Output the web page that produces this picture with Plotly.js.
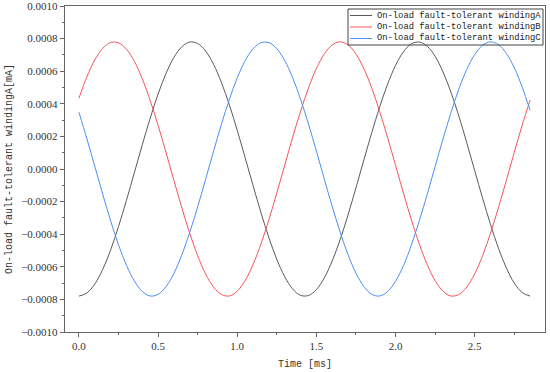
<!DOCTYPE html>
<html>
<head>
<meta charset="utf-8">
<script src="https://cdn.plot.ly/plotly-3.0.1.min.js"></script>
<style>html,body{margin:0;padding:0;background:#fff;}#chart{width:550px;height:372px;}</style>
</head>
<body>
<div id="chart"></div>
<script>
// time [ms]
const time = [0,0.05,0.1,0.15,0.2,0.25,0.3,0.35,0.4,0.45,0.5,0.55,0.6,0.65,0.7,0.75,0.8,0.85,0.9,0.95,
  1,1.05,1.1,1.15,1.2,1.25,1.3,1.35,1.4,1.45,1.5,1.55,1.6,1.65,1.7,1.75,1.8,1.85,1.9,1.95,
  2,2.05,2.1,2.15,2.2,2.25,2.3,2.35,2.4,2.45,2.5,2.55,2.6,2.65,2.7,2.75,2.8,2.85];

const windingA = [-7.80e-4,-7.61e-4,-7.06e-4,-6.16e-4,-4.97e-4,-3.53e-4,-1.93e-4,-0.23e-4,1.48e-4,3.11e-4,
  4.60e-4,5.86e-4,6.85e-4,7.50e-4,7.79e-4,7.70e-4,7.24e-4,6.43e-4,5.31e-4,3.94e-4,
  2.37e-4,0.69e-4,-1.02e-4,-2.68e-4,-4.22e-4,-5.55e-4,-6.61e-4,-7.36e-4,-7.75e-4,-7.76e-4,
  -7.40e-4,-6.68e-4,-5.64e-4,-4.33e-4,-2.81e-4,-1.15e-4,0.56e-4,2.24e-4,3.82e-4,5.21e-4,
  6.36e-4,7.19e-4,7.68e-4,7.79e-4,7.53e-4,6.91e-4,5.95e-4,4.71e-4,3.24e-4,1.61e-4,
  -0.10e-4,-1.80e-4,-3.41e-4,-4.86e-4,-6.07e-4,-7.00e-4,-7.58e-4,-7.80e-4];

const windingB = [4.34e-4,5.65e-4,6.69e-4,7.40e-4,7.76e-4,7.74e-4,7.35e-4,6.61e-4,5.54e-4,4.21e-4,
  2.68e-4,1.01e-4,-0.70e-4,-2.38e-4,-3.95e-4,-5.32e-4,-6.44e-4,-7.24e-4,-7.70e-4,-7.79e-4,
  -7.50e-4,-6.84e-4,-5.86e-4,-4.59e-4,-3.11e-4,-1.47e-4,0.24e-4,1.94e-4,3.54e-4,4.97e-4,
  6.17e-4,7.06e-4,7.61e-4,7.80e-4,7.61e-4,7.05e-4,6.15e-4,4.96e-4,3.52e-4,1.92e-4,
  0.22e-4,-1.48e-4,-3.12e-4,-4.61e-4,-5.87e-4,-6.85e-4,-7.50e-4,-7.79e-4,-7.70e-4,-7.24e-4,
  -6.43e-4,-5.31e-4,-3.93e-4,-2.37e-4,-0.69e-4,1.03e-4,2.69e-4,4.23e-4];

const windingC = [3.48e-4,1.87e-4,0.17e-4,-1.53e-4,-3.17e-4,-4.65e-4,-5.90e-4,-6.87e-4,-7.51e-4,-7.79e-4,
  -7.69e-4,-7.22e-4,-6.40e-4,-5.27e-4,-3.89e-4,-2.32e-4,-0.64e-4,1.08e-4,2.74e-4,4.27e-4,
  5.59e-4,6.64e-4,7.38e-4,7.75e-4,7.75e-4,7.38e-4,6.65e-4,5.60e-4,4.28e-4,2.76e-4,
  1.10e-4,-0.62e-4,-2.30e-4,-3.87e-4,-5.26e-4,-6.39e-4,-7.21e-4,-7.69e-4,-7.79e-4,-7.52e-4,
  -6.88e-4,-5.92e-4,-4.66e-4,-3.18e-4,-1.55e-4,0.15e-4,1.85e-4,3.46e-4,4.91e-4,6.11e-4,
  7.02e-4,7.59e-4,7.80e-4,7.63e-4,7.09e-4,6.21e-4,5.02e-4,3.60e-4];

const seriesNames = ['On-load fault-tolerant windingA','On-load fault-tolerant windingB','On-load fault-tolerant windingC'];
const seriesColors = ['#5a5a5a','#f8545a','#4a8ff5'];
const seriesValues = [windingA, windingB, windingC];

const xTitle = 'Time [ms]';
const yTitle = 'On-load fault-tolerant windingA[mA]';

const traces = seriesValues.map((v, i) => ({
  x: time, y: v, type: 'scatter', mode: 'lines', name: seriesNames[i],
  line: {color: seriesColors[i], width: 1, shape: 'spline', smoothing: 1},
  showlegend: false, hoverinfo: 'skip'
}));

// plot area in pixels
const L = 65, T = 6, W = 480, H = 326;
const px = p => (p - L) / W;
const py = p => (T + H - p) / H;

const shapes = [{
  type: 'rect', xref: 'paper', yref: 'paper',
  x0: px(348), x1: px(543), y0: py(9), y1: py(45),
  line: {color: '#444', width: 1}, fillcolor: 'rgba(0,0,0,0)'
}];
const annotations = [];
const rowY = [15.5, 27, 38.5];
seriesNames.forEach((n, i) => {
  shapes.push({type: 'line', xref: 'paper', yref: 'paper',
    x0: px(350), x1: px(372), y0: py(rowY[i]), y1: py(rowY[i]),
    line: {color: seriesColors[i], width: 1}});
  annotations.push({xref: 'paper', yref: 'paper', x: px(375), y: py(rowY[i]),
    xanchor: 'left', yanchor: 'middle', showarrow: false, text: n,
    font: {family: 'Liberation Mono, monospace', size: 8.8, color: '#222'}});
});

const axisCommon = {
  showline: true, linecolor: '#666', linewidth: 1.2, mirror: true,
  ticks: 'outside', ticklen: 4, tickcolor: '#666', tickwidth: 1,
  showgrid: false, zeroline: false, ticklabeloverflow: 'allow',
  tickfont: {family: 'Liberation Serif, serif', size: 11, color: '#333'}
};

const layout = {
  width: 550, height: 372,
  margin: {l: L, r: 550 - L - W, t: T, b: 372 - T - H},
  paper_bgcolor: '#fff', plot_bgcolor: '#fff',
  xaxis: Object.assign({}, axisCommon, {
    range: [-0.088, 2.944], dtick: 0.5, tick0: 0, tickformat: '.1f',
    minor: {dtick: 0.25, ticks: 'outside', ticklen: 2, tickcolor: '#666', showgrid: false},
    title: {text: xTitle, standoff: 8, font: {family: 'Liberation Mono, monospace', size: 10, color: '#333'}}
  }),
  yaxis: Object.assign({}, axisCommon, {
    range: [-0.001, 0.001], dtick: 0.0002, tick0: 0, tickformat: '.4f',
    minor: {dtick: 0.0001, ticks: 'outside', ticklen: 2, tickcolor: '#666', showgrid: false},
    title: {text: yTitle, standoff: 6, font: {family: 'Liberation Mono, monospace', size: 10, color: '#333'}}
  }),
  shapes: shapes, annotations: annotations
};

Plotly.newPlot('chart', traces, layout, {displayModeBar: false, staticPlot: true});
</script>
</body>
</html>
